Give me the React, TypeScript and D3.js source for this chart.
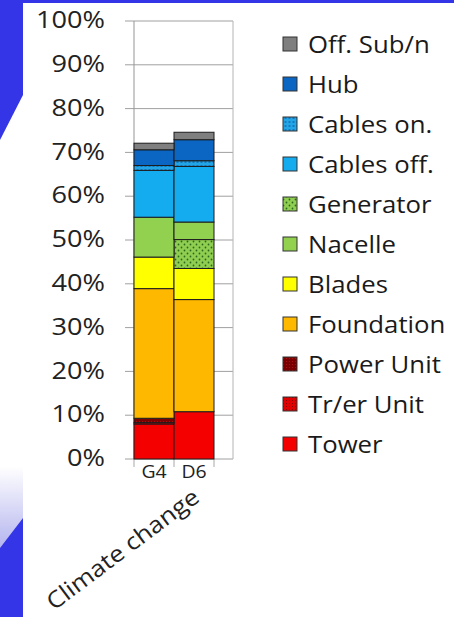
import React from "react";
import * as d3 from "d3";

// Life-cycle impact share by component (climate change), per turbine design
const categories = ["G4", "D6"];
const components = [
  "Tower",
  "Tr/er Unit",
  "Power Unit",
  "Foundation",
  "Blades",
  "Generator",
  "Nacelle",
  "Cables off.",
  "Cables on.",
  "Hub",
  "Off. Sub/n",
];
const g4Values = [8.0, 0.3, 1.0, 29.6, 7.2, 0.0, 9.1, 10.7, 1.1, 3.6, 1.5];
const d6Values = [10.8, 0.0, 0.0, 25.6, 7.1, 6.6, 4.0, 12.7, 1.3, 4.8, 1.7];
const legendOrder = [
  "Off. Sub/n",
  "Hub",
  "Cables on.",
  "Cables off.",
  "Generator",
  "Nacelle",
  "Blades",
  "Foundation",
  "Power Unit",
  "Tr/er Unit",
  "Tower",
];
const yTicks = [0, 10, 20, 30, 40, 50, 60, 70, 80, 90, 100];
const axisTitle = "Climate change";

const fills: Record<string, string> = {
  Tower: "#f50000",
  "Tr/er Unit": "url(#pTr)",
  "Power Unit": "url(#pPower)",
  Foundation: "#ffb800",
  Blades: "#ffff00",
  Generator: "url(#pGen)",
  Nacelle: "#92d050",
  "Cables off.": "#14acef",
  "Cables on.": "url(#pCab)",
  Hub: "#0b65c2",
  "Off. Sub/n": "#7f7f7f",
};

const FONT = "'Open Sans', 'DejaVu Sans', sans-serif";
const STRETCH = 1.12;

export default function App() {
  const W = 454;
  const H = 617;
  const plotTop = 21;
  const plotBottom = 459;
  const axisX = 134;
  const frameRight = 233;

  const y = d3.scaleLinear().domain([0, 100]).range([plotBottom, plotTop]);
  const x = d3
    .scaleBand<string>()
    .domain(categories)
    .range([axisX, 214])
    .paddingInner(0)
    .paddingOuter(0);

  const rows = categories.map((c, i) => {
    const vals = i === 0 ? g4Values : d6Values;
    const r: Record<string, number | string> = { cat: c };
    components.forEach((k, j) => (r[k] = vals[j]));
    return r;
  });
  const series = d3.stack<any>().keys(components)(rows as any);

  const legendY = d3
    .scalePoint<string>()
    .domain(legendOrder)
    .range([44, 444]);

  const catTicks = [...categories.map((c) => x(c)!), x.range()[1]];

  return (
    <svg
      width={W}
      height={H}
      style={{ position: "absolute", left: 0, top: 0, display: "block" }}
    >
      <defs>
        <pattern id="pCab" width="4" height="4" patternUnits="userSpaceOnUse">
          <rect width="4" height="4" fill="#22a6e8" />
          <rect x="0.5" y="1.5" width="2" height="1" fill="#0a4f95" />
        </pattern>
        <pattern id="pGen" width="6" height="6" patternUnits="userSpaceOnUse">
          <rect width="6" height="6" fill="#8fce50" />
          <circle cx="1.5" cy="1.5" r="0.9" fill="#2d6b1c" />
          <circle cx="4.5" cy="4.5" r="0.9" fill="#2d6b1c" />
        </pattern>
        <pattern id="pPower" width="3" height="3" patternUnits="userSpaceOnUse">
          <rect width="3" height="3" fill="#7a0000" />
          <rect x="1" y="1" width="1" height="1" fill="#a81010" />
        </pattern>
        <pattern id="pTr" width="3" height="3" patternUnits="userSpaceOnUse">
          <rect width="3" height="3" fill="#e00000" />
          <rect x="1" y="1" width="1" height="1" fill="#8a0000" />
        </pattern>
        <linearGradient
          id="edgeFade"
          gradientUnits="userSpaceOnUse"
          x1="0"
          y1="95"
          x2="0"
          y2="548"
        >
          <stop offset="0.82" stopColor="#ffffff" />
          <stop offset="1" stopColor="#b4b4ef" />
        </linearGradient>
      </defs>

      {/* backdrop */}
      <rect x={0} y={0} width={W} height={H} fill="#3535e8" />
      <polygon points="0,140 23,95 23,518 0,548" fill="url(#edgeFade)" />
      <rect x={23} y={3} width={W - 23} height={H - 3} fill="#ffffff" />

      {/* gridlines */}
      {yTicks.map((t) => (
        <line
          key={"g" + t}
          x1={125}
          x2={frameRight}
          y1={y(t)}
          y2={y(t)}
          stroke="#a0a0a0"
          strokeWidth={1}
        />
      ))}
      <line x1={axisX} x2={axisX} y1={plotTop} y2={plotBottom} stroke="#959595" />
      <line
        x1={frameRight}
        x2={frameRight}
        y1={plotTop}
        y2={plotBottom}
        stroke="#b4b4b4"
      />
      {catTicks.map((cx, i) => (
        <line
          key={"ct" + i}
          x1={cx}
          x2={cx}
          y1={plotBottom}
          y2={plotBottom + 8}
          stroke="#a8a8a8"
        />
      ))}

      {/* stacked bars */}
      {series.map((s) =>
        s.map((d, i) => {
          const h = y(d[0]) - y(d[1]);
          if (h <= 0) return null;
          return (
            <rect
              key={s.key + i}
              x={x(categories[i])}
              y={y(d[1])}
              width={x.bandwidth()}
              height={h}
              fill={fills[s.key]}
              stroke="#1c1c1c"
              strokeWidth={1}
            />
          );
        })
      )}

      {/* y tick labels */}
      {yTicks.map((t) => (
        <text
          key={"yl" + t}
          transform={`translate(105,${y(t) - 2}) scale(1.18,1)`}
          textAnchor="end"
          dominantBaseline="central"
          fontFamily={FONT}
          fontSize={23}
          fill="#222"
        >
          {t + "%"}
        </text>
      ))}

      {/* category labels */}
      {categories.map((c) => (
        <text
          key={"xl" + c}
          transform={`translate(${x(c)! + x.bandwidth() / 2},478) scale(1.08,1)`}
          textAnchor="middle"
          fontFamily={FONT}
          fontSize={18}
          fill="#222"
        >
          {c}
        </text>
      ))}

      <text
        transform="translate(54,611) rotate(-37)"
        fontFamily={FONT}
        fontSize={23}
        fill="#222"
        textLength={184}
        lengthAdjust="spacingAndGlyphs"
      >
        {axisTitle}
      </text>

      {/* legend */}
      {legendOrder.map((k) => {
        const cy = legendY(k)!;
        return (
          <g key={"lg" + k}>
            <rect
              x={283}
              y={cy - 7}
              width={14}
              height={14}
              fill={fills[k]}
              stroke="#333"
              strokeWidth={1}
            />
            <text
              transform={`translate(308,${cy}) scale(${STRETCH},1)`}
              dominantBaseline="central"
              fontFamily={FONT}
              fontSize={23}
              fill="#1a1a1a"
            >
              {k}
            </text>
          </g>
        );
      })}
    </svg>
  );
}
